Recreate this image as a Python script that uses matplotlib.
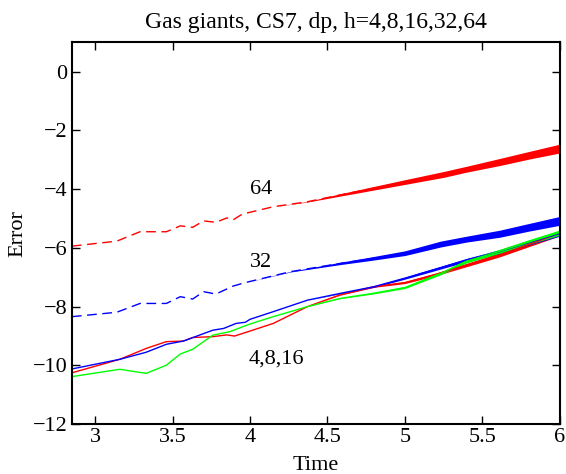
import matplotlib
matplotlib.use('Agg')
import matplotlib.pyplot as plt
import numpy as np

plt.rcParams['font.family'] = ['Liberation Serif', 'DejaVu Serif']
plt.rcParams['mathtext.fontset'] = 'stix'

# h=64 (dashed red)
t64 = [2.85, 3.14, 3.29, 3.46, 3.55, 3.63, 3.70, 3.78, 3.85, 3.89, 3.95, 4.15,
       4.37, 4.58, 4.79, 5.00, 5.25, 5.40, 5.61, 5.80, 6.00]
e64 = [-5.94, -5.77, -5.45, -5.45, -5.25, -5.30, -5.08, -5.13, -4.98, -5.05, -4.85, -4.60,
       -4.43, -4.20, -3.98, -3.76, -3.50, -3.32, -3.08, -2.85, -2.62]
w64 = [0, 0, 0, 0, 0, 0, 0, 0, 0, 0, 0, 0,
       0.01, 0.04, 0.06, 0.08, 0.10, 0.10, 0.12, 0.13, 0.15]

# h=32 (dashed blue)
t32 = [2.85, 3.14, 3.29, 3.46, 3.55, 3.63, 3.70, 3.78, 3.89, 3.97, 4.26, 4.58,
       4.79, 5.00, 5.23, 5.40, 5.61, 5.80, 6.00]
e32 = [-8.34, -8.19, -7.89, -7.89, -7.66, -7.74, -7.49, -7.57, -7.30, -7.18, -6.81, -6.53,
       -6.36, -6.18, -5.87, -5.70, -5.52, -5.30, -5.08]
w32 = [0, 0, 0, 0, 0, 0, 0, 0, 0, 0, 0.01, 0.04,
       0.06, 0.08, 0.10, 0.10, 0.12, 0.13, 0.15]

# h=4,8,16 (solid)
t_blue = [2.85, 3.16, 3.33, 3.46, 3.57, 3.76, 3.83, 3.91, 3.97, 4.00, 4.15, 4.37,
          4.58, 4.80, 5.00, 5.20, 5.40, 5.61, 5.80, 6.00]
e_blue = [-10.12, -9.79, -9.55, -9.28, -9.17, -8.80, -8.74, -8.57, -8.53, -8.43, -8.17, -7.78,
          -7.55, -7.32, -7.03, -6.72, -6.41, -6.13, -5.82, -5.51]
t_red = [2.85, 3.16, 3.33, 3.46, 3.57, 3.63, 3.76, 3.85, 3.90, 4.00, 4.15, 4.37,
         4.58, 4.80, 5.00, 5.20, 5.40, 5.61, 5.80, 6.00]
e_red = [-10.25, -9.79, -9.42, -9.19, -9.17, -9.05, -9.02, -8.96, -9.00, -8.83, -8.57, -8.00,
         -7.60, -7.32, -7.18, -6.90, -6.58, -6.24, -5.88, -5.50]
t_green = [2.85, 3.16, 3.33, 3.46, 3.55, 3.63, 3.76, 3.87, 4.00, 4.15, 4.37, 4.58,
           4.79, 5.00, 5.23, 5.40, 5.61, 5.80, 6.00]
e_green = [-10.38, -10.13, -10.27, -9.99, -9.61, -9.45, -8.97, -8.85, -8.59, -8.34, -8.00, -7.72,
           -7.55, -7.35, -6.87, -6.45, -6.12, -5.80, -5.48]

xticks = [3, 3.5, 4, 4.5, 5, 5.5, 6]
yticks = [-12, -10, -8, -6, -4, -2, 0]


def band(t, tstart, wend):
    # half-width of the noise band, growing after tstart
    t = np.array(t)
    return np.clip((t - tstart) / (6 - tstart), 0, 1) * wend


fig = plt.figure(figsize=(5.66, 4.74), dpi=100)
ax = fig.add_axes([0.127, 0.105, 0.862, 0.806])

ax.plot(t64, e64, color=(1, 0, 0), lw=1, dashes=(7, 4))
ax.fill_between(t64, np.array(e64) - np.array(w64), np.array(e64) + np.array(w64),
                color=(1, 0, 0), lw=0)
ax.plot(t32, e32, color=(0, 0, 1), lw=1, dashes=(7, 4))
ax.fill_between(t32, np.array(e32) - np.array(w32), np.array(e32) + np.array(w32),
                color=(0, 0, 1), lw=0)

for t, e, c in [(t_red, e_red, (1, 0, 0)), (t_blue, e_blue, (0, 0, 1)),
                (t_green, e_green, (0, 1, 0))]:
    ax.plot(t, e, color=c, lw=1)
    w = band(t, 4.4, 0.09)
    ax.fill_between(t, np.array(e) - w, np.array(e) + w, color=c, lw=0)

ax.text(4.0, -4.02, '64', fontsize=16, va='center', ha='left')
ax.text(4.0, -6.5, '32', fontsize=16, va='center', ha='left')
ax.text(3.99, -9.78, '4,8,16', fontsize=16, va='center', ha='left')

ax.set_xlim(2.85, 6)
ax.set_ylim(-12, 1)
ax.set_xticks(xticks)
ax.set_xticklabels(['3', '3.5', '4', '4.5', '5', '5.5', '6'])
ax.set_yticks(yticks)
ax.set_yticklabels(['\u221212', '\u221210', '\u22128', '\u22126', '\u22124', '\u22122', '0'])
ax.tick_params(direction='in', top=True, right=True, length=6, width=1, labelsize=16, pad=3)
for s in ax.spines.values():
    s.set_linewidth(1.5)

ax.set_xlabel('Time', fontsize=16, labelpad=6)
ax.set_ylabel('Error', fontsize=16, labelpad=4)
ax.set_title('Gas giants, CS7, dp, h=4,8,16,32,64', fontsize=17, pad=10)

plt.savefig('out.png', dpi=100)
